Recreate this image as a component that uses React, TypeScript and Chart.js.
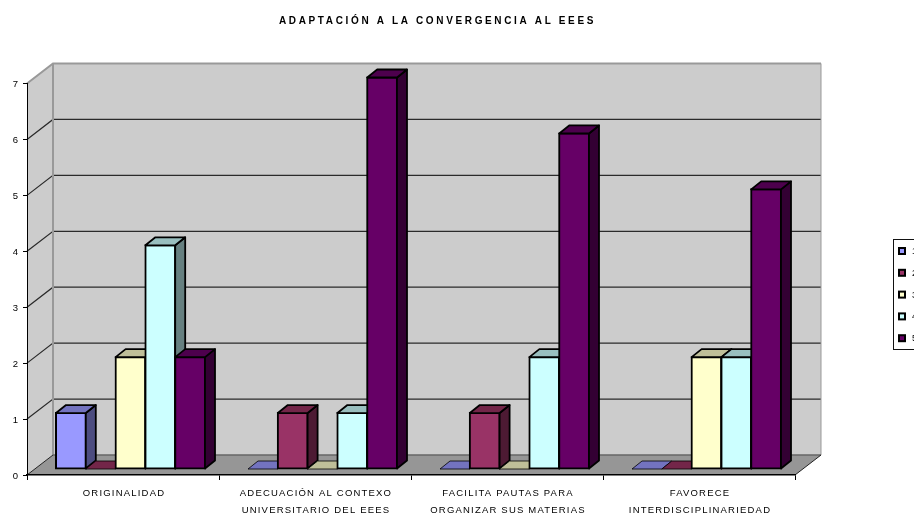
import { useEffect, useRef } from "react";
import { Chart, registerables } from "chart.js";

Chart.register(...registerables);

const TITLE = "ADAPTACIÓN A LA CONVERGENCIA AL EEES";
const CATEGORIES = [
  ["ORIGINALIDAD"],
  ["ADECUACIÓN AL CONTEXO", "UNIVERSITARIO DEL EEES"],
  ["FACILITA PAUTAS PARA", "ORGANIZAR SUS MATERIAS"],
  ["FAVORECE", "INTERDISCIPLINARIEDAD"],
];
const SERIES_LABELS = ["1", "2", "3", "4", "5"];
const SERIES_1 = [1, 0, 0, 0];
const SERIES_2 = [0, 1, 1, 0];
const SERIES_3 = [2, 0, 0, 2];
const SERIES_4 = [4, 1, 2, 2];
const SERIES_5 = [2, 7, 6, 5];
const FRONT_COLORS = ["#9999FF", "#993366", "#FFFFCC", "#CCFFFF", "#660066"];
const TOP_COLORS = ["#7373BF", "#732649", "#BFBF99", "#99BFBF", "#4D004D"];
const SIDE_COLORS = ["#4D4D80", "#4D1A33", "#808066", "#668080", "#330033"];

// Oblique projection of the box: wall depth, bar depth and bar offset inside the box.
const WALL_DX = 26;
const WALL_DY = -20;
const BAR_DX = 10;
const BAR_DY = -8;
const BAR_SHIFT_X = 7.5;
const BAR_SHIFT_Y = -6;

const FONT = "'Liberation Sans', Arial, sans-serif";

const poly = (ctx: CanvasRenderingContext2D, pts: number[][], fill?: string, stroke?: string, lw = 1) => {
  ctx.beginPath();
  pts.forEach(([x, y], i) => (i ? ctx.lineTo(x, y) : ctx.moveTo(x, y)));
  ctx.closePath();
  if (fill) {
    ctx.fillStyle = fill;
    ctx.fill();
  }
  if (stroke) {
    ctx.strokeStyle = stroke;
    ctx.lineWidth = lw;
    ctx.lineJoin = "round";
    ctx.stroke();
  }
};

const box3dPlugin = {
  id: "box3d",
  // Back wall, side wall, floor and the grid lines that wrap around them.
  beforeDraw(chart: any) {
    const { ctx, chartArea: a, scales } = chart;
    const y = scales.y;
    const { left: l, right: r, top: t, bottom: b } = a;
    ctx.save();
    poly(ctx, [[l + WALL_DX, t + WALL_DY], [r + WALL_DX, t + WALL_DY], [r + WALL_DX, b + WALL_DY], [l + WALL_DX, b + WALL_DY]], "#CCCCCC");
    poly(ctx, [[l, t], [l + WALL_DX, t + WALL_DY], [l + WALL_DX, b + WALL_DY], [l, b]], "#CCCCCC");
    poly(ctx, [[l, b], [r, b], [r + WALL_DX, b + WALL_DY], [l + WALL_DX, b + WALL_DY]], "#969696");

    ctx.strokeStyle = "#2a2a2a";
    ctx.lineWidth = 1.2;
    y.ticks.forEach((tick: any) => {
      if (tick.value === 0 || tick.value === y.max) return;
      const py = y.getPixelForValue(tick.value);
      ctx.beginPath();
      ctx.moveTo(l, py);
      ctx.lineTo(l + WALL_DX, py + WALL_DY);
      ctx.lineTo(r + WALL_DX, py + WALL_DY);
      ctx.stroke();
    });

    // Grey edges of the walls
    ctx.strokeStyle = "#999999";
    ctx.lineWidth = 2;
    ctx.beginPath();
    ctx.moveTo(l, t);
    ctx.lineTo(l + WALL_DX, t + WALL_DY);
    ctx.lineTo(r + WALL_DX, t + WALL_DY);
    ctx.moveTo(l + WALL_DX, t + WALL_DY);
    ctx.lineTo(l + WALL_DX, b + WALL_DY);
    ctx.stroke();
    ctx.lineWidth = 1;
    ctx.beginPath();
    ctx.moveTo(r + WALL_DX, t + WALL_DY);
    ctx.lineTo(r + WALL_DX, b + WALL_DY);
    ctx.stroke();

    // Floor outline
    ctx.strokeStyle = "#666666";
    ctx.lineWidth = 1.5;
    ctx.beginPath();
    ctx.moveTo(l + WALL_DX, b + WALL_DY);
    ctx.lineTo(r + WALL_DX, b + WALL_DY);
    ctx.stroke();
    ctx.strokeStyle = "#222222";
    ctx.lineWidth = 1;
    ctx.beginPath();
    ctx.moveTo(l, b);
    ctx.lineTo(l + WALL_DX, b + WALL_DY);
    ctx.moveTo(r + WALL_DX, b + WALL_DY);
    ctx.lineTo(r, b);
    ctx.stroke();
    ctx.restore();
  },
  // Series are painted left to right, so each bar's front covers its left neighbour's depth.
  beforeDatasetsDraw(chart: any) {
    const { ctx } = chart;
    ctx.save();
    ctx.translate(BAR_SHIFT_X, BAR_SHIFT_Y);
    chart.data.datasets.forEach((_: any, i: number) => {
      const meta = chart.getDatasetMeta(i);
      meta.controller.draw();
      meta.data.forEach((bar: any) => {
        const half = bar.width / 2;
        const l = bar.x - half;
        const r = bar.x + half;
        const t = bar.y;
        const b = bar.base;
        const flat = t === b;
        if (!flat) poly(ctx, [[r, t], [r + BAR_DX, t + BAR_DY], [r + BAR_DX, b + BAR_DY], [r, b]], SIDE_COLORS[i], "#000000", 1.8);
        poly(ctx, [[l, t], [r, t], [r + BAR_DX, t + BAR_DY], [l + BAR_DX, t + BAR_DY]], TOP_COLORS[i], "#000000", flat ? 0.8 : 1.8);
      });
    });
    ctx.restore();
    return false;
  },
  // Framed key at the right edge; its last column runs off the canvas.
  afterDraw(chart: any) {
    const { ctx } = chart;
    ctx.save();
    ctx.fillStyle = "#FFFFFF";
    ctx.fillRect(893.5, 239.5, 40, 110);
    ctx.strokeStyle = "#111111";
    ctx.lineWidth = 1;
    ctx.strokeRect(893.5, 239.5, 40, 110);
    ctx.font = `9px ${FONT}`;
    ctx.textBaseline = "middle";
    chart.data.datasets.forEach((ds: any, i: number) => {
      const cy = 251 + i * 21.8;
      ctx.fillStyle = ds.backgroundColor;
      ctx.fillRect(899, cy - 3, 6, 6);
      ctx.strokeStyle = "#000000";
      ctx.lineWidth = 2;
      ctx.strokeRect(899, cy - 3, 6, 6);
      ctx.fillStyle = "#000000";
      ctx.fillText(ds.label, 912, cy + 0.5);
    });
    ctx.restore();
  },
};

export default function App() {
  const ref = useRef<HTMLCanvasElement>(null);

  useEffect(() => {
    document.body.style.margin = "0";
    const values = [SERIES_1, SERIES_2, SERIES_3, SERIES_4, SERIES_5];
    const chart = new Chart(ref.current as HTMLCanvasElement, {
      type: "bar",
      data: {
        labels: CATEGORIES as any,
        datasets: values.map((data, i) => ({
          label: SERIES_LABELS[i],
          data,
          backgroundColor: FRONT_COLORS[i],
          borderColor: "#000000",
          borderWidth: (c: any) => (c.parsed?.y === 0 ? 0 : 2),
          borderSkipped: false,
          inflateAmount: (c: any) => (c.parsed?.y === 0 ? 0 : 1),
          barPercentage: 1,
          categoryPercentage: 0.776,
          clip: false,
        })) as any,
      },
      options: {
        responsive: false,
        animation: false,
        layout: { padding: { left: 0, right: 119, top: 0, bottom: 0 } },
        plugins: {
          legend: { display: false },
          tooltip: { enabled: false },
          title: {
            display: true,
            text: TITLE,
            color: "#000000",
            font: { family: FONT, size: 10, weight: "bold", lineHeight: 1.2 },
            padding: { top: 15.5, bottom: 56 },
          },
        },
        scales: {
          x: {
            grid: { offset: true, drawOnChartArea: false, drawTicks: true, tickLength: 5, color: "#000000" },
            border: { color: "#000000", width: 1.5 },
            ticks: {
              color: "#000000",
              autoSkip: false,
              maxRotation: 0,
              padding: 4.5,
              font: { family: FONT, size: 9.5, lineHeight: 1.8 },
            },
            afterFit: (s: any) => {
              s.height = 41;
            },
          },
          y: {
            min: 0,
            max: 7,
            grid: { drawOnChartArea: false, drawTicks: true, tickLength: 4, color: "#000000" },
            border: { color: "#000000", width: 1 },
            ticks: {
              stepSize: 1,
              color: "#000000",
              padding: 5,
              labelOffset: 1,
              font: { family: FONT, size: 9.5 },
            },
            afterFit: (s: any) => {
              s.width = 27;
            },
          },
        },
      },
      plugins: [box3dPlugin],
    } as any);

    // Wide tracking on the heading and the axis captions; the heading sits right of the plot's centre.
    const c = chart.ctx as any;
    const titleBlock = (chart as any).titleBlock;
    const drawTitle = titleBlock.draw.bind(titleBlock);
    titleBlock.draw = () => {
      c.save();
      c.translate(40, 0);
      c.letterSpacing = "2.64px";
      drawTitle();
      c.restore();
    };
    const xScale = chart.scales.x as any;
    const drawLabels = xScale.drawLabels.bind(xScale);
    xScale.drawLabels = (area: any) => {
      c.save();
      c.translate(1, 0);
      c.letterSpacing = "1.2px";
      drawLabels(area);
      c.restore();
    };
    chart.draw();

    return () => chart.destroy();
  }, []);

  return <canvas ref={ref} width={914} height={516} style={{ display: "block" }} />;
}
